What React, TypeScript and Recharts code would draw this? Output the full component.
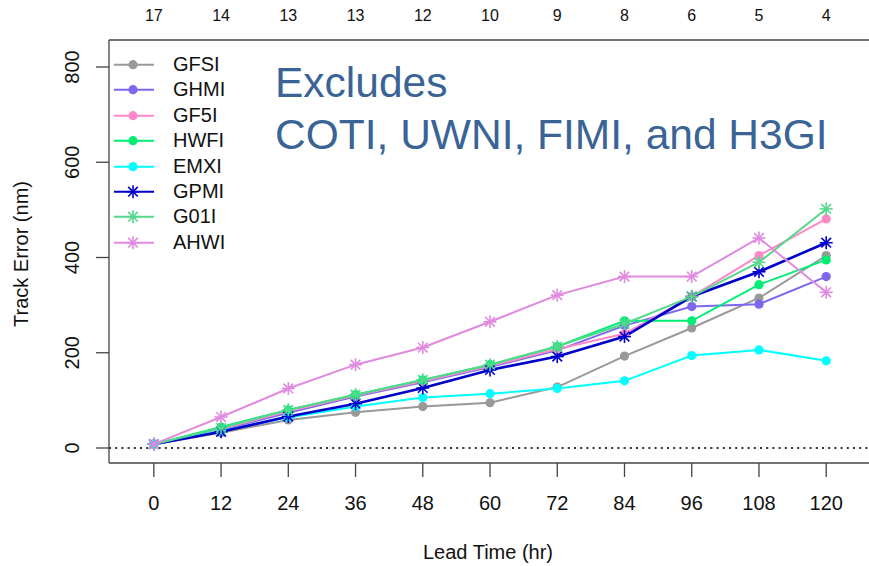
import { ComposedChart, Line, XAxis, YAxis, ReferenceLine } from 'recharts';

// lead times (hr) and number of cases at each lead time (top axis)
const leadTimes = [0, 12, 24, 36, 48, 60, 72, 84, 96, 108, 120];
const caseCounts = [17, 14, 13, 13, 12, 10, 9, 8, 6, 5, 4];
const yTicks = [0, 200, 400, 600, 800];

// track errors (nm)
const GFSI = [8, 32, 59, 75, 87, 95, 128, 193, 252, 315, 404];
const GHMI = [8, 38, 74, 108, 138, 170, 205, 257, 297, 302, 360];
const GF5I = [8, 40, 77, 110, 140, 172, 208, 240, 318, 404, 481];
const HWFI = [8, 44, 80, 112, 143, 175, 213, 267, 267, 343, 395];
const EMXI = [8, 36, 64, 87, 106, 114, 125, 141, 194, 206, 183];
const GPMI = [8, 34, 66, 93, 126, 164, 192, 234, 318, 370, 431];
const G01I = [8, 42, 80, 112, 143, 175, 213, 261, 318, 390, 502];
const AHWI = [8, 65, 125, 175, 211, 265, 321, 360, 360, 441, 327];

const FONT = '"Liberation Sans", Arial, Helvetica, sans-serif';

const series = [
  { key: 'GFSI', values: GFSI, color: '#999999', shape: 'dot', width: 2 },
  { key: 'GHMI', values: GHMI, color: '#7B68EE', shape: 'dot', width: 2 },
  { key: 'GF5I', values: GF5I, color: '#FF88C8', shape: 'dot', width: 2 },
  { key: 'HWFI', values: HWFI, color: '#00EE76', shape: 'dot', width: 2 },
  { key: 'EMXI', values: EMXI, color: '#00FFFF', shape: 'dot', width: 2 },
  { key: 'GPMI', values: GPMI, color: '#0000CD', shape: 'star', width: 2.6 },
  { key: 'G01I', values: G01I, color: '#54D98C', shape: 'star', width: 2 },
  { key: 'AHWI', values: AHWI, color: '#E08AE0', shape: 'star', width: 2 },
];

const data = leadTimes.map((lead, i) => {
  const row: Record<string, number> = { lead };
  series.forEach((s) => { row[s.key] = s.values[i]; });
  return row;
});

function Marker({ cx, cy, color, shape }: { cx: number; cy: number; color: string; shape: string }) {
  if (shape === 'star') {
    const a = 6.5, b = 4.8;
    return (
      <g stroke={color} strokeWidth={1.6}>
        <line x1={cx - a} y1={cy} x2={cx + a} y2={cy} />
        <line x1={cx} y1={cy - a} x2={cx} y2={cy + a} />
        <line x1={cx - b} y1={cy - b} x2={cx + b} y2={cy + b} />
        <line x1={cx - b} y1={cy + b} x2={cx + b} y2={cy - b} />
      </g>
    );
  }
  return <circle cx={cx} cy={cy} r={4.6} fill={color} stroke="none" />;
}

function LegendBox() {
  return (
    <div style={{ position: 'absolute', left: 114, top: 52, fontFamily: FONT }}>
      {series.map((s) => (
        <div key={s.key} style={{ display: 'flex', alignItems: 'center', height: 25.4 }}>
          <svg width={40} height={25.4} style={{ display: 'block' }}>
            <line x1={0} y1={12.7} x2={40} y2={12.7} stroke={s.color} strokeWidth={2} />
            <Marker cx={19} cy={12.7} color={s.color} shape={s.shape} />
          </svg>
          <span style={{ marginLeft: 19, fontSize: 20, color: '#111', lineHeight: '25.4px' }}>{s.key}</span>
        </div>
      ))}
    </div>
  );
}

const BottomTick = ({ x, payload }: any) => (
  <text x={x} y={503} textAnchor="middle" dominantBaseline="central" fontSize={20} fill="#111" fontFamily={FONT}>
    {payload.value}
  </text>
);

const TopTick = ({ x, payload }: any) => (
  <text x={x} y={15} textAnchor="middle" dominantBaseline="central" fontSize={16} fill="#111" fontFamily={FONT}>
    {caseCounts[leadTimes.indexOf(payload.value)]}
  </text>
);

const LeftTick = ({ y, payload }: any) => (
  <text x={72} y={y} textAnchor="middle" dominantBaseline="central" fontSize={20} fill="#111" fontFamily={FONT}
    transform={`rotate(-90 72 ${y})`}>
    {payload.value}
  </text>
);

export default function App() {
  return (
    <div style={{ position: 'fixed', left: 0, top: 0, width: 869, height: 566, overflow: 'hidden', background: '#fff' }}>
      <ComposedChart width={900} height={566} data={data} margin={{ top: 0, right: 20, bottom: 0, left: 0 }}>
        <XAxis xAxisId="bottom" dataKey="lead" type="number" domain={[-8, 129.6]} allowDataOverflow
          ticks={leadTimes} height={103} tickSize={14} tick={<BottomTick />}
          axisLine={{ stroke: '#444', strokeWidth: 1.3 }} tickLine={{ stroke: '#444', strokeWidth: 1.3 }} />
        <XAxis xAxisId="top" orientation="top" dataKey="lead" type="number" domain={[-8, 129.6]} allowDataOverflow
          ticks={leadTimes} height={40} tickLine={false} tick={<TopTick />}
          axisLine={{ stroke: '#444', strokeWidth: 1.3 }} />
        <YAxis type="number" domain={[-31.5, 856.7]} allowDataOverflow ticks={yTicks} width={109}
          tickSize={13} tick={<LeftTick />}
          axisLine={{ stroke: '#444', strokeWidth: 1.3 }} tickLine={{ stroke: '#444', strokeWidth: 1.3 }} />
        <ReferenceLine xAxisId="bottom" y={0} stroke="#333" strokeWidth={2} strokeDasharray="2 4.2" />
        {series.map((s) => (
          <Line key={s.key} xAxisId="bottom" dataKey={s.key} stroke={s.color} strokeWidth={s.width}
            isAnimationActive={false} legendType="none"
            dot={(p: any) => <Marker key={`${s.key}-${p.index}`} cx={p.cx} cy={p.cy} color={s.color} shape={s.shape} />}
            activeDot={false} />
        ))}
      </ComposedChart>
      <LegendBox />
      <svg width={869} height={566} style={{ position: 'absolute', left: 0, top: 0, pointerEvents: 'none' }}>
        <text x={275} y={96.7} fontSize={42.5} fill="#3A6496" fontFamily={FONT}>Excludes</text>
        <text x={275} y={149.3} fontSize={42.5} fill="#3A6496" fontFamily={FONT}>COTI, UWNI, FIMI, and H3GI</text>
        <text x={488} y={552} textAnchor="middle" dominantBaseline="central" fontSize={20} fill="#111" fontFamily={FONT}>
          Lead Time (hr)
        </text>
        <text x={21} y={254} textAnchor="middle" dominantBaseline="central" fontSize={20} fill="#111" fontFamily={FONT}
          transform="rotate(-90 21 254)">
          Track Error (nm)
        </text>
      </svg>
    </div>
  );
}
